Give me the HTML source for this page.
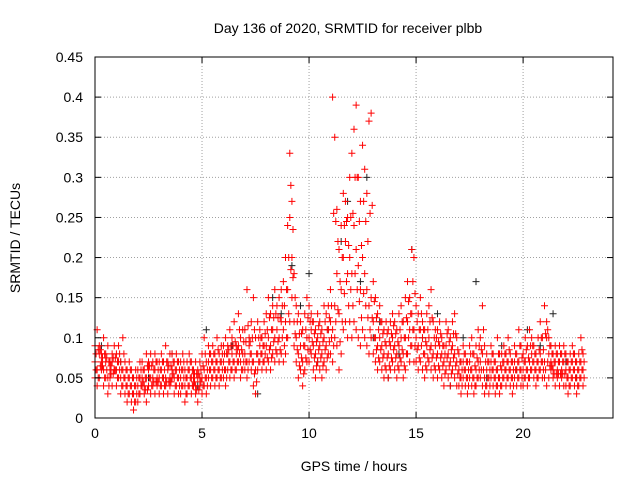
<!DOCTYPE html>
<html><head><meta charset="utf-8"><style>
body{margin:0;background:#fff;}
svg{display:block;font-family:"Liberation Sans",sans-serif;}
</style></head><body>
<svg id="chart" width="640" height="480">
<g id="grid"></g>
<g id="black"></g>
<g id="red"></g>
<rect x="95" y="57" width="518" height="361" fill="none" stroke="#000" stroke-width="1"/>
<g id="axes"></g>
<text x="348" y="33" text-anchor="middle" font-size="14">Day 136 of 2020, SRMTID for receiver plbb</text>
<text x="354" y="471" text-anchor="middle" font-size="14">GPS time / hours</text>
<text x="20" y="238" text-anchor="middle" font-size="14" transform="rotate(-90 20 238)">SRMTID / TECUs</text>
</svg>
<script>
const xTicks=[0,5,10,15,20];
const yTicks=[0,0.05,0.1,0.15,0.2,0.25,0.3,0.35,0.4,0.45];
const yTickLabels=["0","0.05","0.1","0.15","0.2","0.25","0.3","0.35","0.4","0.45"];
const times=[
0.0,0.1,0.2,0.3,0.4,0.5,0.6,0.7,0.8,0.9,1.0,1.1,1.2,1.3,1.4,1.5,1.6,1.7,1.8,1.9,
2.0,2.1,2.2,2.3,2.4,2.5,2.6,2.7,2.8,2.9,3.0,3.1,3.2,3.3,3.4,3.5,3.6,3.7,3.8,3.9,
4.0,4.1,4.2,4.3,4.4,4.5,4.6,4.7,4.8,4.9,5.0,5.1,5.2,5.3,5.4,5.5,5.6,5.7,5.8,5.9,
6.0,6.1,6.2,6.3,6.4,6.5,6.6,6.7,6.8,6.9,7.0,7.1,7.2,7.3,7.4,7.5,7.6,7.7,7.8,7.9,
8.0,8.1,8.2,8.3,8.4,8.5,8.6,8.7,8.8,8.9,9.0,9.1,9.2,9.3,9.4,9.5,9.6,9.7,9.8,9.9,
10.0,10.1,10.2,10.3,10.4,10.5,10.6,10.7,10.8,10.9,11.0,11.1,11.2,11.3,11.4,11.5,11.6,11.7,11.8,11.9,
12.0,12.1,12.2,12.3,12.4,12.5,12.6,12.7,12.8,12.9,13.0,13.1,13.2,13.3,13.4,13.5,13.6,13.7,13.8,13.9,
14.0,14.1,14.2,14.3,14.4,14.5,14.6,14.7,14.8,14.9,15.0,15.1,15.2,15.3,15.4,15.5,15.6,15.7,15.8,15.9,
16.0,16.1,16.2,16.3,16.4,16.5,16.6,16.7,16.8,16.9,17.0,17.1,17.2,17.3,17.4,17.5,17.6,17.7,17.8,17.9,
18.0,18.1,18.2,18.3,18.4,18.5,18.6,18.7,18.8,18.9,19.0,19.1,19.2,19.3,19.4,19.5,19.6,19.7,19.8,19.9,
20.0,20.1,20.2,20.3,20.4,20.5,20.6,20.7,20.8,20.9,21.0,21.1,21.2,21.3,21.4,21.5,21.6,21.7,21.8,21.9,
22.0,22.1,22.2,22.3,22.4,22.5,22.6,22.7,22.8];
const redLow=[
.05,.04,.05,.06,.04,.05,.03,.05,.04,.06,.04,.05,.03,.04,.03,.02,.03,.02,.01,.02,
.02,.03,.04,.03,.02,.04,.03,.04,.03,.04,.03,.04,.03,.04,.03,.04,.05,.03,.04,.03,
.03,.04,.02,.03,.04,.03,.04,.03,.02,.04,.03,.04,.03,.05,.04,.05,.04,.05,.04,.05,
.05,.04,.06,.05,.06,.05,.06,.07,.05,.06,.06,.05,.07,.06,.04,.03,.06,.07,.06,.07,
.06,.07,.06,.08,.07,.08,.07,.08,.07,.08,.10,.12,.15,.09,.07,.05,.06,.04,.06,.07,
.07,.08,.06,.05,.07,.06,.05,.07,.06,.08,.08,.07,.10,.09,.06,.08,.11,.12,.10,.12,
.10,.12,.11,.10,.09,.11,.10,.09,.08,.10,.08,.07,.06,.07,.06,.05,.06,.05,.06,.07,
.06,.05,.06,.07,.05,.06,.08,.07,.09,.07,.07,.06,.07,.06,.05,.06,.07,.06,.05,.06,
.05,.06,.05,.04,.06,.05,.04,.06,.05,.04,.04,.03,.05,.04,.03,.05,.04,.03,.04,.05,
.05,.04,.03,.04,.03,.05,.04,.03,.04,.03,.04,.05,.04,.05,.04,.03,.05,.04,.05,.04,
.04,.05,.04,.05,.06,.05,.04,.05,.06,.05,.05,.04,.05,.06,.05,.04,.05,.04,.05,.04,
.04,.03,.04,.05,.04,.03,.04,.05,.04];
const redMid=[
.07,.06,.08,.07,.06,.07,.05,.06,.07,.06,.06,.07,.05,.06,.05,.04,.05,.04,.03,.04,
.04,.05,.05,.04,.05,.06,.05,.05,.06,.05,.05,.06,.05,.05,.06,.05,.06,.05,.06,.05,
.05,.06,.04,.05,.06,.05,.05,.04,.05,.05,.05,.06,.05,.07,.06,.07,.06,.07,.06,.07,
.07,.06,.08,.07,.08,.07,.08,.09,.07,.08,.08,.07,.09,.08,.07,.06,.08,.09,.08,.09,
.09,.10,.09,.11,.10,.11,.10,.12,.11,.12,.16,.25,.20,.12,.10,.08,.09,.07,.09,.10,
.10,.11,.09,.08,.10,.09,.08,.10,.09,.11,.12,.11,.14,.18,.13,.16,.20,.22,.18,.20,
.18,.24,.21,.19,.16,.20,.18,.16,.14,.15,.12,.10,.09,.10,.09,.08,.09,.08,.09,.10,
.09,.08,.09,.10,.08,.10,.12,.11,.13,.11,.10,.09,.11,.10,.08,.09,.10,.09,.08,.09,
.08,.09,.08,.07,.09,.08,.07,.09,.08,.07,.06,.05,.07,.06,.05,.07,.06,.05,.06,.07,
.07,.08,.05,.06,.05,.07,.06,.05,.06,.05,.06,.07,.06,.07,.06,.05,.07,.06,.07,.06,
.06,.07,.06,.07,.08,.07,.06,.07,.08,.07,.07,.10,.08,.07,.06,.07,.06,.07,.06,.07,
.06,.05,.06,.07,.06,.05,.06,.07,.06];
const redHigh=[
.09,.11,.09,.08,.10,.08,.09,.07,.08,.09,.08,.09,.07,.10,.07,.06,.07,.06,.05,.06,
.06,.07,.07,.06,.08,.07,.08,.07,.08,.07,.07,.08,.07,.09,.07,.08,.08,.07,.08,.07,
.07,.08,.06,.07,.08,.07,.06,.07,.06,.07,.08,.10,.07,.09,.08,.09,.08,.10,.08,.09,
.09,.10,.09,.11,.10,.12,.09,.13,.10,.11,.11,.16,.10,.12,.15,.10,.12,.11,.10,.12,
.13,.15,.13,.14,.16,.14,.15,.16,.17,.20,.24,.33,.27,.18,.14,.13,.12,.11,.13,.15,
.14,.13,.12,.11,.13,.12,.11,.14,.13,.14,.16,.40,.35,.26,.21,.24,.28,.27,.25,.30,
.33,.36,.39,.30,.27,.34,.31,.28,.37,.38,.17,.15,.13,.14,.12,.11,.12,.11,.12,.13,
.12,.11,.13,.14,.12,.15,.17,.15,.21,.20,.14,.13,.15,.12,.11,.13,.14,.16,.12,.11,
.11,.12,.10,.09,.12,.11,.10,.12,.13,.10,.08,.07,.09,.08,.07,.09,.10,.08,.09,.11,
.10,.14,.09,.08,.07,.09,.08,.07,.10,.08,.08,.09,.08,.10,.08,.07,.09,.08,.11,.09,
.08,.10,.09,.11,.10,.09,.08,.10,.12,.10,.14,.12,.10,.09,.08,.09,.08,.09,.08,.09,
.08,.07,.08,.09,.08,.07,.08,.10,.08];
const redQ1=[
.060,.050,.065,.065,.050,.060,.040,.055,.055,.060,.050,.060,.040,.050,.040,.030,.040,.030,.020,.030,
.030,.040,.045,.035,.035,.050,.040,.045,.045,.045,.040,.050,.040,.045,.045,.045,.055,.040,.050,.040,
.040,.050,.030,.040,.050,.040,.045,.035,.035,.045,.040,.050,.040,.060,.050,.060,.050,.060,.050,.060,
.060,.050,.070,.060,.070,.060,.070,.080,.060,.070,.070,.060,.080,.070,.055,.045,.070,.080,.070,.080,
.075,.085,.075,.095,.085,.095,.085,.100,.090,.100,.130,.185,.175,.105,.085,.065,.075,.055,.075,.085,
.085,.095,.075,.065,.085,.075,.065,.085,.075,.095,.100,.090,.120,.135,.095,.120,.155,.170,.140,.160,
.140,.180,.160,.145,.125,.155,.140,.125,.110,.125,.100,.085,.075,.085,.075,.065,.075,.065,.075,.085,
.075,.065,.075,.085,.065,.080,.100,.090,.110,.090,.085,.075,.090,.080,.065,.075,.085,.075,.065,.075,
.065,.075,.065,.055,.075,.065,.055,.075,.065,.055,.050,.040,.060,.050,.040,.060,.050,.040,.050,.060,
.060,.060,.040,.050,.040,.060,.050,.040,.050,.040,.050,.060,.050,.060,.050,.040,.060,.050,.060,.050,
.050,.060,.050,.060,.070,.060,.050,.060,.070,.060,.060,.070,.065,.065,.055,.055,.055,.055,.055,.055,
.050,.040,.050,.060,.050,.040,.050,.060,.050];
const redQ2=[
.080,.085,.085,.075,.080,.075,.070,.065,.075,.075,.070,.080,.060,.080,.060,.050,.060,.050,.040,.050,
.050,.060,.060,.050,.065,.065,.065,.060,.070,.060,.060,.070,.060,.070,.065,.065,.070,.060,.070,.060,
.060,.070,.050,.060,.070,.060,.055,.055,.055,.060,.065,.080,.060,.080,.070,.080,.070,.085,.070,.080,
.080,.080,.085,.090,.090,.095,.085,.110,.085,.095,.095,.115,.095,.100,.110,.080,.100,.100,.090,.105,
.110,.125,.110,.125,.130,.125,.125,.140,.140,.160,.200,.290,.235,.150,.120,.105,.105,.090,.110,.125,
.120,.120,.105,.095,.115,.105,.095,.120,.110,.125,.140,.255,.245,.220,.170,.200,.240,.245,.215,.250,
.255,.300,.300,.245,.215,.270,.245,.220,.255,.265,.145,.125,.110,.120,.105,.095,.105,.095,.105,.115,
.105,.095,.110,.120,.100,.125,.145,.130,.170,.155,.120,.110,.130,.110,.095,.110,.120,.125,.100,.100,
.095,.105,.090,.080,.105,.095,.085,.105,.105,.085,.070,.060,.080,.070,.060,.080,.080,.065,.075,.090,
.085,.110,.070,.070,.060,.080,.070,.060,.080,.065,.070,.080,.070,.085,.070,.060,.080,.070,.090,.075,
.070,.085,.075,.090,.090,.080,.070,.085,.100,.085,.105,.110,.090,.080,.070,.080,.070,.080,.070,.080,
.070,.060,.070,.080,.070,.060,.070,.085,.070];
const halfStep=0.05;
const blackTimes=[0.3,1.2,2.5,3.6,4.8,5.2,6.4,7.6,8.3,8.7,9.2,9.6,10.0,10.4,10.9,11.5,11.8,12.1,12.4,12.7,13.0,13.3,13.7,14.2,14.8,15.3,16.0,16.6,17.2,17.8,18.3,19.0,19.7,20.2,20.8,21.4,22.0,22.5];
const blackValues=[.09,.07,.05,.08,.04,.11,.09,.03,.15,.13,.19,.14,.18,.07,.11,.22,.27,.24,.17,.30,.10,.12,.05,.08,.21,.10,.13,.04,.10,.17,.05,.09,.06,.11,.09,.13,.07,.05];

const NS="http://www.w3.org/2000/svg";
const X0=95,X1=613,Y0=418,Y1=57,XMAX=24.2,YMAX=0.45;
function xs(t){return X0+t/XMAX*(X1-X0);}
function ys(v){return Y0-v/YMAX*(Y0-Y1);}
function mk(tag,attrs,parent){const e=document.createElementNS(NS,tag);for(const k in attrs)e.setAttribute(k,attrs[k]);parent.appendChild(e);return e;}
const grid=document.getElementById('grid'),axes=document.getElementById('axes');
xTicks.forEach(t=>{
  const x=xs(t);
  if(t>0){const g=mk('line',{x1:x,x2:x,y1:Y0,y2:Y1,stroke:'#a0a0a0','stroke-dasharray':'1,2'},grid);
  
  }
  mk('line',{x1:x,x2:x,y1:Y0,y2:Y0-6,stroke:'#000'},axes);
  mk('line',{x1:x,x2:x,y1:Y1,y2:Y1+6,stroke:'#000'},axes);
  const l=mk('text',{x:x,y:Y0+20,'text-anchor':'middle','font-size':'14'},axes);
  l.textContent=String(t);
  
  
});
yTicks.forEach((v,i)=>{
  const y=ys(v);
  if(i>0&&i<yTicks.length-1){const g=mk('line',{x1:X0,x2:X1,y1:y,y2:y,stroke:'#a0a0a0','stroke-dasharray':'1,2'},grid);
  
  }
  mk('line',{x1:X0,x2:X0+6,y1:y,y2:y,stroke:'#000'},axes);
  mk('line',{x1:X1,x2:X1-6,y1:y,y2:y,stroke:'#000'},axes);
  const l=mk('text',{x:X0-12,y:y+5,'text-anchor':'end','font-size':'14'},axes);
  l.textContent=yTickLabels[i];
  
  
});
function plus(t,v,color,parent){
  const x=xs(t),y=ys(v);
  const p=mk('path',{d:`M${x-3.5},${y}H${x+3.5}M${x},${y-3.5}V${y+3.5}`,stroke:color,'stroke-width':'1',fill:'none'},parent);
  
  
}
const bg=document.getElementById('black'),rg=document.getElementById('red');
blackTimes.forEach((t,i)=>plus(t,blackValues[i],'#222',bg));
[redLow,redMid,redHigh].forEach(s=>times.forEach((t,i)=>plus(t,s[i],'#ff0000',rg)));
[redQ1,redQ2].forEach(s=>times.forEach((t,i)=>plus(t+halfStep,s[i],'#ff0000',rg)));
</script>
</body></html>
